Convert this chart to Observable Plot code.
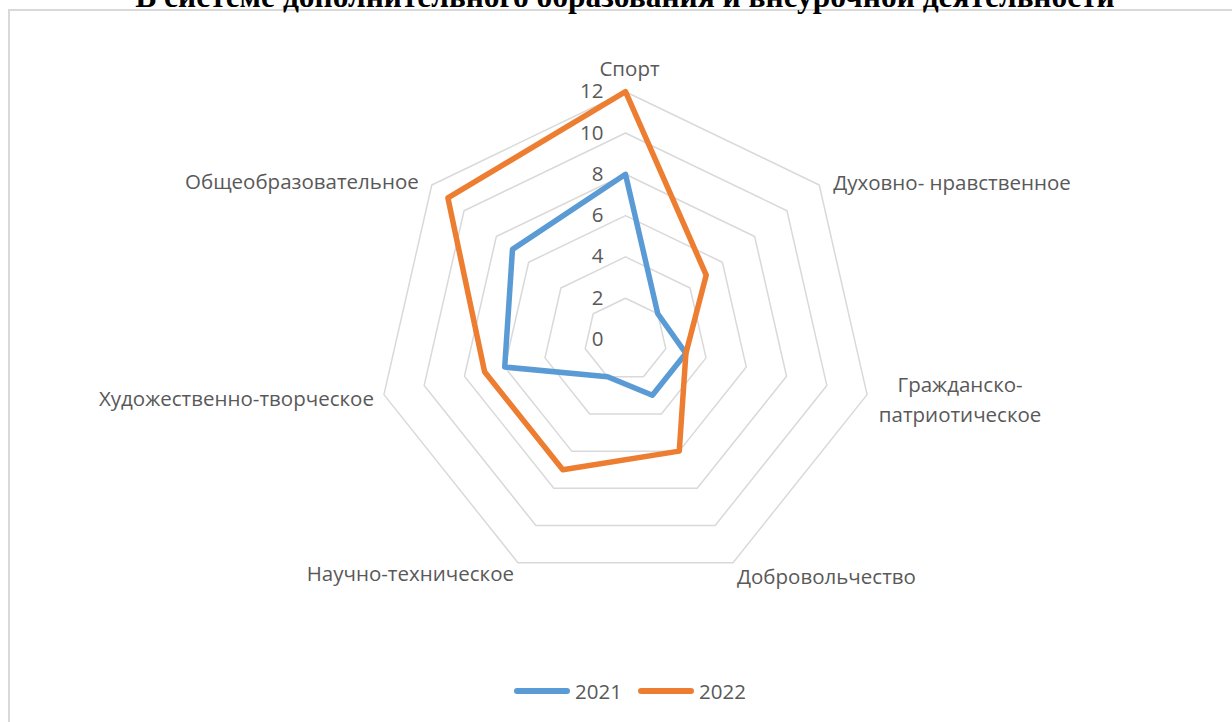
<!DOCTYPE html>
<html><head><meta charset="utf-8">
<script src="https://cdn.jsdelivr.net/npm/d3@7"></script>
<script src="https://cdn.jsdelivr.net/npm/@observablehq/plot@0.6"></script>
<style>
html,body{margin:0;padding:0;background:#fff;overflow:hidden;}
#wrap{position:relative;width:1232px;height:722px;overflow:hidden;}
#frame{position:absolute;left:8px;top:9px;width:1300px;height:800px;border:2px solid #d9d9d9;box-sizing:border-box;}
#title{position:absolute;left:0;width:1232px;text-align:center;font-family:"Liberation Serif",serif;font-weight:bold;line-height:1;color:#000;white-space:nowrap;}
#chart{position:absolute;left:0;top:0;}
#legend{position:absolute;left:14px;top:676px;width:1232px;display:flex;justify-content:center;font-family:"Open Sans",sans-serif;font-size:20.5px;line-height:30px;color:#595959;}
.item{display:flex;align-items:center;margin:0 8px;}
.sw{width:56px;height:6px;border-radius:3px;margin-right:5px;}
</style></head>
<body><div id="wrap"><div id="frame"></div><div id="title">В системе дополнительного образования и внеурочной деятельности</div><div id="chart"></div><div id="legend"></div></div>
<script>
const categories = ["Спорт","Духовно- нравственное","Гражданско-патриотическое","Добровольчество","Научно-техническое","Художественно-творческое","Общеобразовательное"];
const categoryLines = [["Спорт"],["Духовно- нравственное"],["Гражданско-","патриотическое"],["Добровольчество"],["Научно-техническое"],["Художественно-творческое"],["Общеобразовательное"]];
const series = ["2021","2022"];
const values2021 = [8,2,3,3,2,6,7];
const values2022 = [12,5,3,6,7,7,11];
const ringTicks = [0,2,4,6,8,10,12];
const colors = ["#5B9BD5","#ED7D31"];

// title sizing: fit target width, baseline near top edge
(function(){
  const t = document.getElementById("title");
  const targetW = 980, base = 7;
  const s = document.createElement("span"); s.textContent = t.textContent; s.style.font = "bold 24px 'Liberation Serif'"; s.style.position="absolute"; s.style.visibility="hidden"; s.style.whiteSpace="nowrap";
  document.body.appendChild(s);
  const w = s.getBoundingClientRect().width; s.remove();
  const F = 24*targetW/w;
  t.style.fontSize = F+"px";
  t.style.left = "9px";
  t.style.top = (base - 0.8375*F)+"px";
})();

const n = categories.length;
const ang = i => 2*Math.PI*i/n;
const px = (v,i) => v*Math.sin(ang(i));
const py = (v,i) => v*Math.cos(ang(i));

const cx = 625, cy = 339, k = 20.65, R = 12;
const rings = [];
ringTicks.filter(t=>t>0).forEach(t=>{ for(let i=0;i<=n;i++) rings.push({t, x:px(t,i%n), y:py(t,i%n)}); });
const pts = [];
[values2021, values2022].forEach((vals,s)=>vals.forEach((v,i)=>pts.push({s:series[s], i, v, x:px(v,i), y:py(v,i)})));

// label placement styling (per axis): anchor, dx, dy
const lab = [
  {a:"middle", dx:4, dy:-25},
  {a:"start", dx:14, dy:-4},
  {a:"middle", dx:93, dy:3},
  {a:"start", dx:4, dy:12},
  {a:"end", dx:-4, dy:9},
  {a:"end", dx:-10, dy:2},
  {a:"end", dx:-13, dy:-5}
];
const labels = categories.map((c,i)=>({c, i, text: categoryLines[i].join("\n"), x:px(R,i), y:py(R,i)}));

const plot = Plot.plot({
  width:1232, height:722,
  x:{domain:[-cx/k,(1232-cx)/k], range:[0,1232], axis:null},
  y:{domain:[-(722-cy)/k, cy/k], range:[722,0], axis:null},
  style:{fontFamily:"'Open Sans', sans-serif", background:"transparent"},
  marks:[
    Plot.line(rings,{x:"x",y:"y",z:"t",stroke:"#d9d9d9",strokeWidth:1.5}),
    Plot.text(ringTicks,{x:0,y:d=>d,text:d=>String(d),textAnchor:"end",dx:-22,fill:"#595959",fontSize:20.5}),
    Plot.line(pts,{x:"x",y:"y",z:"s",stroke:d=>d.s,curve:"linear-closed",strokeWidth:5.5,strokeLinejoin:"round"}),
    ...labels.map(l=>Plot.text([l],{x:"x",y:"y",text:"text",textAnchor:lab[l.i].a,dx:lab[l.i].dx,dy:lab[l.i].dy,fill:"#595959",fontSize:20.5,lineHeight:1.42}))
  ],
  color:{domain:series, range:colors}
});
document.getElementById("chart").appendChild(plot);

const lg = document.getElementById("legend");
series.forEach((s,j)=>{
  const it=document.createElement("div"); it.className="item";
  const sw=document.createElement("div"); sw.className="sw"; sw.style.background=colors[j];
  const tx=document.createElement("span"); tx.textContent=s;
  it.appendChild(sw); it.appendChild(tx); lg.appendChild(it);
});
</script></body></html>
